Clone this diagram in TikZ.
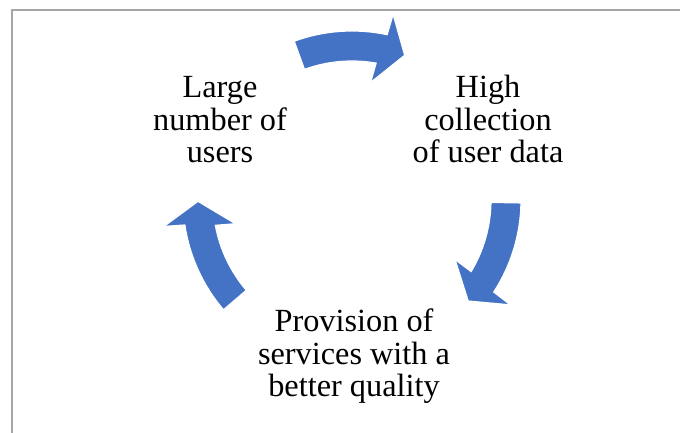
\documentclass[tikz,border=0pt]{standalone}
\usepackage{fontspec}
\setmainfont{Liberation Serif}
\definecolor{cycleblue}{HTML}{4472C4}
\definecolor{framegray}{HTML}{A6A6A6}
\begin{document}
\begin{tikzpicture}[x=1pt,y=1pt,
  cycletext/.style={align=center,inner sep=0pt,anchor=base,
    font=\fontsize{32.3}{32.5}\selectfont},
  cyclearrow/.style={fill=cycleblue,draw=white,line width=1.2pt,line join=miter}]
\useasboundingbox (0,0) rectangle (680,433);
% frame: top and left edges only
\draw[framegray,line width=2pt] (12,0) -- (12,422.5) -- (680,422.5);

% curved block arrows around the cycle centre
\begin{scope}[shift={(352,233)}]
  \foreach \t in {110,-1,220.5}{
    \filldraw[cyclearrow]
      (\t:169) arc[start angle=\t, end angle=\t-32, radius=169]
      -- (\t-32.5:190) -- (\t-40:154) -- (\t-29:119) -- (\t-30:139)
      arc[start angle=\t-30, end angle=\t, radius=139] -- cycle;
  }
\end{scope}

% stage labels (anchored at the baseline of the last line)
\node[cycletext] (users) at (220,270) {Large\\number of\\users};
\node[cycletext] (data) at (488,270) {High\\collection\\of user data};
\node[cycletext] (quality) at (354,36) {Provision of\\services with a\\better quality};
\end{tikzpicture}
\end{document}
